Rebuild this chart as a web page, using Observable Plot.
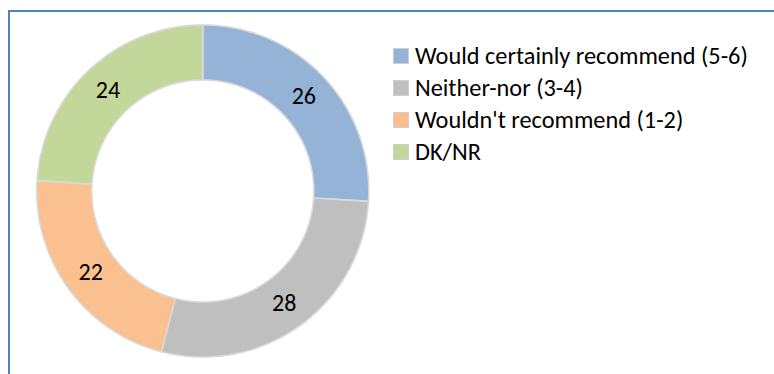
<!DOCTYPE html>
<html><head><meta charset="utf-8">
<script src="https://cdn.jsdelivr.net/npm/d3@7"></script>
<script src="https://cdn.jsdelivr.net/npm/@observablehq/plot@0.6"></script>
<style>
html,body{margin:0;padding:0;background:#fff;overflow:hidden;width:774px;height:374px}
#wrap{position:relative;width:774px;height:374px;overflow:hidden}
#chart{position:absolute;left:0;top:0}
#frame{position:absolute;left:8px;top:10px;width:900px;height:500px;border:2px solid #4F81BD;box-sizing:border-box;pointer-events:none}
#legend{position:absolute;left:393px;top:40px;font-family:Carlito,Calibri,Lato,sans-serif;color:#000}
.row{position:absolute;left:0;height:32px;display:flex;align-items:center;white-space:nowrap}
.sw{width:14px;height:14px;border:1px solid #cfcfcf;margin-right:6px;flex:none}
</style>
</head><body>
<div id="wrap"><div id="chart"></div><div id="legend"></div><div id="frame"></div></div>
<script>
const categories = ["Would certainly recommend (5-6)", "Neither-nor (3-4)", "Wouldn't recommend (1-2)", "DK/NR"];
const values = [26, 28, 22, 24];
const colors = ["#95B3D7", "#BFBFBF", "#FAC090", "#C4D79B"];

const FONT = "Carlito, Calibri, Lato, sans-serif";
const cx = 202.3, cy = 190.5, R = 166;
const inner = 0.669;

const data = categories.map((c, i) => ({category: c, value: values[i]}));
const arcs = d3.pie().sort(null).value(d => d.value)(data);

// ring polygons from pie angles
const pts = [];
arcs.forEach(a => {
  const n = Math.max(8, Math.ceil((a.endAngle - a.startAngle) / 0.01));
  const ring = [];
  for (let k = 0; k <= n; k++) {
    const t = a.startAngle + (a.endAngle - a.startAngle) * k / n;
    ring.push([Math.sin(t), Math.cos(t)]);
  }
  for (let k = n; k >= 0; k--) {
    const t = a.startAngle + (a.endAngle - a.startAngle) * k / n;
    ring.push([inner * Math.sin(t), inner * Math.cos(t)]);
  }
  ring.push(ring[0]);
  ring.forEach(([x, y]) => pts.push({category: a.data.category, x, y}));
});
const labels = arcs.map(a => {
  const m = (a.startAngle + a.endAngle) / 2, r = (1 + inner) / 2;
  return {text: String(a.data.value), x: r * Math.sin(m), y: r * Math.cos(m)};
});

function build(fs) {
  const chart = Plot.plot({
    width: 774, height: 374, margin: 0,
    style: {background: "transparent", fontFamily: FONT},
    x: {domain: [-1, 1], range: [cx - R, cx + R], axis: null},
    y: {domain: [-1, 1], range: [cy + R, cy - R], axis: null},
    color: {domain: categories, range: colors},
    marks: [
      Plot.line(pts, {x: "x", y: "y", z: "category", fill: "category", stroke: "#d9d9d9", strokeWidth: 1.6, curve: "linear-closed"}),
      Plot.text(labels, {x: "x", y: "y", text: "text", fontSize: fs, fill: "#000"})
    ]
  });
  document.getElementById("chart").appendChild(chart);
}

(async () => {
  try { await document.fonts.ready; } catch (e) {}
  const lg = document.getElementById("legend");
  const probe = document.createElement("span");
  probe.style.cssText = "position:absolute;visibility:hidden;white-space:nowrap;font-size:24px;font-family:" + FONT;
  probe.textContent = categories[0];
  document.body.appendChild(probe);
  const w = probe.getBoundingClientRect().width;
  probe.remove();
  const fs = 24 * 333 / w;
  lg.style.fontSize = fs + "px";
  categories.forEach((c, i) => {
    const row = document.createElement("div");
    row.className = "row";
    row.style.top = (i * 31.9) + "px";
    const sw = document.createElement("div");
    sw.className = "sw";
    sw.style.background = colors[i];
    const tx = document.createElement("span");
    tx.textContent = c;
    row.appendChild(sw); row.appendChild(tx);
    lg.appendChild(row);
  });
  build(Math.min(fs, 24));
})();
</script>
</body></html>
